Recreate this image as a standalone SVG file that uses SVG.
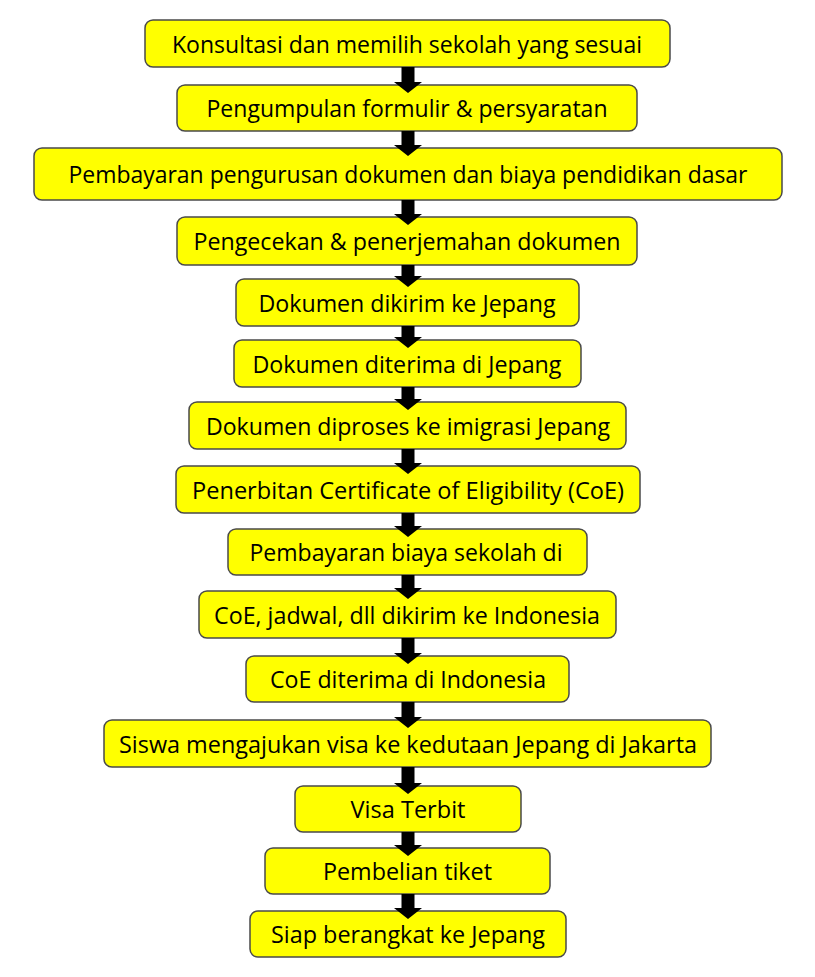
<svg xmlns="http://www.w3.org/2000/svg" width="815" height="977" viewBox="0 0 815 977">
  <style>
    .box { fill: #FFFF00; stroke: #4a4a4a; stroke-width: 1.5; }
    .lbl { font-family: "Open Sans", "Liberation Sans", sans-serif; font-size: 23px; fill: #000; text-anchor: middle; }
    .arr { fill: #000; }
  </style>
  <rect width="815" height="977" fill="#ffffff"/>

  <g id="nodes">
    <g id="n1"><rect class="box" x="145" y="20" width="525" height="47" rx="8"/><text class="lbl" x="407" y="52.5" textLength="470" lengthAdjust="spacingAndGlyphs">Konsultasi dan memilih sekolah yang sesuai</text></g>
    <g id="n2"><rect class="box" x="177" y="85" width="460" height="46" rx="8"/><text class="lbl" x="407" y="117" textLength="401" lengthAdjust="spacingAndGlyphs">Pengumpulan formulir &amp; persyaratan</text></g>
    <g id="n3"><rect class="box" x="34" y="148" width="748" height="52" rx="8"/><text class="lbl" x="408" y="183" textLength="679" lengthAdjust="spacingAndGlyphs">Pembayaran pengurusan dokumen dan biaya pendidikan dasar</text></g>
    <g id="n4"><rect class="box" x="177" y="217" width="460" height="48" rx="8"/><text class="lbl" x="407" y="250" textLength="427" lengthAdjust="spacingAndGlyphs">Pengecekan &amp; penerjemahan dokumen</text></g>
    <g id="n5"><rect class="box" x="236" y="279" width="343" height="47" rx="8"/><text class="lbl" x="407" y="311.5" textLength="297" lengthAdjust="spacingAndGlyphs">Dokumen dikirim ke Jepang</text></g>
    <g id="n6"><rect class="box" x="234" y="340" width="347" height="47" rx="8"/><text class="lbl" x="407" y="372.5" textLength="309" lengthAdjust="spacingAndGlyphs">Dokumen diterima di Jepang</text></g>
    <g id="n7"><rect class="box" x="189" y="402" width="437" height="47" rx="8"/><text class="lbl" x="408" y="434.5" textLength="404" lengthAdjust="spacingAndGlyphs">Dokumen diproses ke imigrasi Jepang</text></g>
    <g id="n8"><rect class="box" x="176" y="466" width="464" height="47" rx="8"/><text class="lbl" x="408" y="498.5" textLength="432" lengthAdjust="spacingAndGlyphs">Penerbitan Certificate of Eligibility (CoE)</text></g>
    <g id="n9"><rect class="box" x="228" y="529" width="359" height="46" rx="8"/><text class="lbl" x="406" y="561" textLength="313" lengthAdjust="spacingAndGlyphs">Pembayaran biaya sekolah di</text></g>
    <g id="n10"><rect class="box" x="199" y="591" width="417" height="47" rx="8"/><text class="lbl" x="407" y="623.5" textLength="386" lengthAdjust="spacingAndGlyphs">CoE, jadwal, dll dikirim ke Indonesia</text></g>
    <g id="n11"><rect class="box" x="246" y="656" width="323" height="46" rx="8"/><text class="lbl" x="408" y="688" textLength="276" lengthAdjust="spacingAndGlyphs">CoE diterima di Indonesia</text></g>
    <g id="n12"><rect class="box" x="104" y="720" width="607" height="47" rx="8"/><text class="lbl" x="408" y="752.5" textLength="578" lengthAdjust="spacingAndGlyphs">Siswa mengajukan visa ke kedutaan Jepang di Jakarta</text></g>
    <g id="n13"><rect class="box" x="295" y="786" width="226" height="46" rx="8"/><text class="lbl" x="408" y="817.5" textLength="115" lengthAdjust="spacingAndGlyphs">Visa Terbit</text></g>
    <g id="n14"><rect class="box" x="265" y="848" width="285" height="46" rx="8"/><text class="lbl" x="407.5" y="880" textLength="169" lengthAdjust="spacingAndGlyphs">Pembelian tiket</text></g>
    <g id="n15"><rect class="box" x="250" y="911" width="316" height="46" rx="8"/><text class="lbl" x="408" y="943" textLength="274" lengthAdjust="spacingAndGlyphs">Siap berangkat ke Jepang</text></g>
  </g>

  <!-- block arrows: shaft 13px wide, head 28px wide, tip 8px inside the next box -->
  <g id="connectors">
    <polygon class="arr" points="401.5,67 414.5,67 414.5,82 422,82 408,93 394,82 401.5,82"/>
    <polygon class="arr" points="401.5,131 414.5,131 414.5,145 422,145 408,156 394,145 401.5,145"/>
    <polygon class="arr" points="401.5,200 414.5,200 414.5,214 422,214 408,225 394,214 401.5,214"/>
    <polygon class="arr" points="401.5,265 414.5,265 414.5,276 422,276 408,287 394,276 401.5,276"/>
    <polygon class="arr" points="401.5,326 414.5,326 414.5,337 422,337 408,348 394,337 401.5,337"/>
    <polygon class="arr" points="401.5,387 414.5,387 414.5,399 422,399 408,410 394,399 401.5,399"/>
    <polygon class="arr" points="401.5,449 414.5,449 414.5,463 422,463 408,474 394,463 401.5,463"/>
    <polygon class="arr" points="401.5,513 414.5,513 414.5,526 422,526 408,537 394,526 401.5,526"/>
    <polygon class="arr" points="401.5,575 414.5,575 414.5,588 422,588 408,599 394,588 401.5,588"/>
    <polygon class="arr" points="401.5,638 414.5,638 414.5,653 422,653 408,664 394,653 401.5,653"/>
    <polygon class="arr" points="401.5,702 414.5,702 414.5,717 422,717 408,728 394,717 401.5,717"/>
    <polygon class="arr" points="401.5,767 414.5,767 414.5,783 422,783 408,794 394,783 401.5,783"/>
    <polygon class="arr" points="401.5,832 414.5,832 414.5,845 422,845 408,856 394,845 401.5,845"/>
    <polygon class="arr" points="401.5,894 414.5,894 414.5,908 422,908 408,919 394,908 401.5,908"/>
  </g>
</svg>
